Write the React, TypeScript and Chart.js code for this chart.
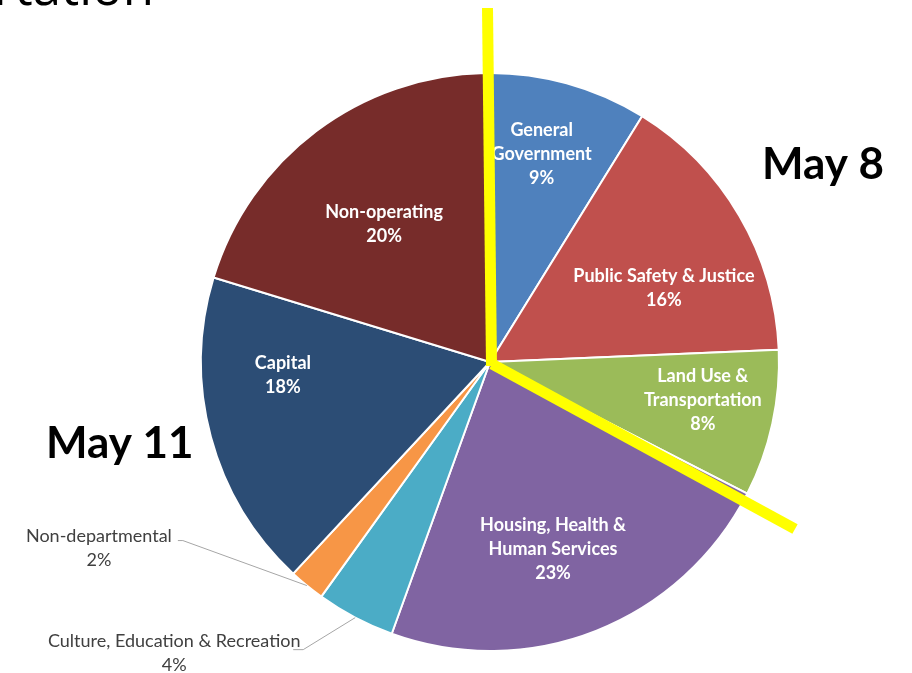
import React, { useEffect, useRef } from "react";
import { Chart, registerables } from "chart.js";

Chart.register(...registerables);

// ---- data ----
const categories = [
  "General Government",
  "Public Safety & Justice",
  "Land Use & Transportation",
  "Housing, Health & Human Services",
  "Culture, Education & Recreation",
  "Non-departmental",
  "Capital",
  "Non-operating",
];
const labelLines = [
  ["General", "Government"],
  ["Public Safety & Justice"],
  ["Land Use &", "Transportation"],
  ["Housing, Health &", "Human Services"],
  ["Culture, Education & Recreation"],
  ["Non-departmental"],
  ["Capital"],
  ["Non-operating"],
];
const shares = [9.1, 15.5, 8.2, 23.0, 4.4, 2.0, 17.8, 20.0];
const colors = ["#4F81BD", "#C0504D", "#9BBB59", "#8064A2", "#4BACC6", "#F79646", "#2C4D75", "#772C2A"];

// ---- label layout (styling) ----
// inside: radius fraction + angle tweak (deg); outside: text offset from arc edge point
const inside = [
  { r: 0.74, da: -1.4 },
  { r: 0.654, da: 7.3 },
  { r: 0.748, da: -2.2 },
  { r: 0.683, da: 2.9 },
  null,
  null,
  { r: 0.718, da: 11.4 },
  { r: 0.602, da: -0.5 },
];
const outside: any[] = [
  null, null, null, null,
  { dx: -181, dy: 36, elbow: [129, -4], end: [119, -4] },
  { dx: -208, dy: -37, elbow: [84, -8], end: [79, -8] },
  null, null,
];

const FONT = "Lato, 'Open Sans', sans-serif";

const overlay = {
  id: "overlay",
  afterDatasetsDraw(chart: any) {
    const ctx = chart.ctx;
    const meta = chart.getDatasetMeta(0);
    const total = shares.reduce((a, b) => a + b, 0);
    ctx.save();
    meta.data.forEach((arc: any, i: number) => {
      const p = arc.getProps(["x", "y", "startAngle", "endAngle", "outerRadius"], true);
      const mid = (p.startAngle + p.endAngle) / 2;
      const lines = [...labelLines[i], Math.round((shares[i] / total) * 100) + "%"];
      const lh = 24;
      if (inside[i]) {
        const a = mid + (inside[i]!.da * Math.PI) / 180;
        const r = p.outerRadius * inside[i]!.r;
        const cx = p.x + Math.cos(a) * r;
        const cy = p.y + Math.sin(a) * r;
        ctx.fillStyle = "#FFFFFF";
        ctx.font = `bold 18px ${FONT}`;
        ctx.textAlign = "center";
        ctx.textBaseline = "middle";
        lines.forEach((t, k) => {
          ctx.fillText(t, cx, cy + (k - (lines.length - 1) / 2) * lh);
        });
      } else if (outside[i]) {
        const o = outside[i];
        const ex = p.x + Math.cos(mid) * p.outerRadius;
        const ey = p.y + Math.sin(mid) * p.outerRadius;
        const cx = ex + o.dx;
        const cy = ey + o.dy;
        ctx.strokeStyle = "#A6A6A6";
        ctx.lineWidth = 1;
        ctx.beginPath();
        ctx.moveTo(ex, ey);
        ctx.lineTo(cx + o.elbow[0], cy + o.elbow[1]);
        ctx.lineTo(cx + o.end[0], cy + o.end[1]);
        ctx.stroke();
        ctx.fillStyle = "#404040";
        ctx.font = `18px ${FONT}`;
        ctx.textAlign = "center";
        ctx.textBaseline = "middle";
        lines.forEach((t, k) => {
          ctx.fillText(t, cx, cy + (k - (lines.length - 1) / 2) * lh);
        });
      }
    });

    // yellow annotation lines
    const c = meta.data[0];
    const cxp = c.x;
    const cyp = c.y;
    ctx.strokeStyle = "#FFFF00";
    ctx.lineWidth = 11;
    ctx.lineCap = "butt";
    ctx.beginPath();
    ctx.moveTo(cxp - 2.5, 8);
    ctx.lineTo(cxp + 1.5, cyp + 4);
    ctx.stroke();
    ctx.beginPath();
    ctx.moveTo(cxp + 2, cyp + 2);
    ctx.lineTo(cxp + 305, cyp + 167);
    ctx.stroke();

    // slide texts
    ctx.fillStyle = "#000000";
    ctx.textBaseline = "alphabetic";
    ctx.font = `bold 44px ${FONT}`;
    ctx.textAlign = "left";
    ctx.fillText("May 8", 762, 179);
    ctx.fillText("May 11", 46, 458);
    ctx.font = `51px 'Open Sans', sans-serif`;
    ctx.textAlign = "right";
    ctx.fillText("Transportation", 154, 5);
    ctx.restore();
  },
};

export default function App() {
  const ref = useRef<HTMLCanvasElement>(null);
  useEffect(() => {
    const chart = new Chart(ref.current!, {
      type: "pie",
      data: {
        labels: categories,
        datasets: [
          {
            data: shares,
            backgroundColor: colors,
            borderColor: "#FFFFFF",
            borderWidth: 2,
            radius: 289,
          } as any,
        ],
      },
      options: {
        responsive: false,
        animation: false,
        rotation: -1,
        layout: { padding: { left: 201, right: 133, top: 73, bottom: 22 } },
        plugins: {
          legend: { display: false },
          tooltip: { enabled: false },
        },
      },
      plugins: [overlay],
    });
    return () => chart.destroy();
  }, []);
  return (
    <div style={{ position: "absolute", left: 0, top: 0, width: 912, height: 673, background: "#fff" }}>
      <canvas ref={ref} width={912} height={673} />
    </div>
  );
}
